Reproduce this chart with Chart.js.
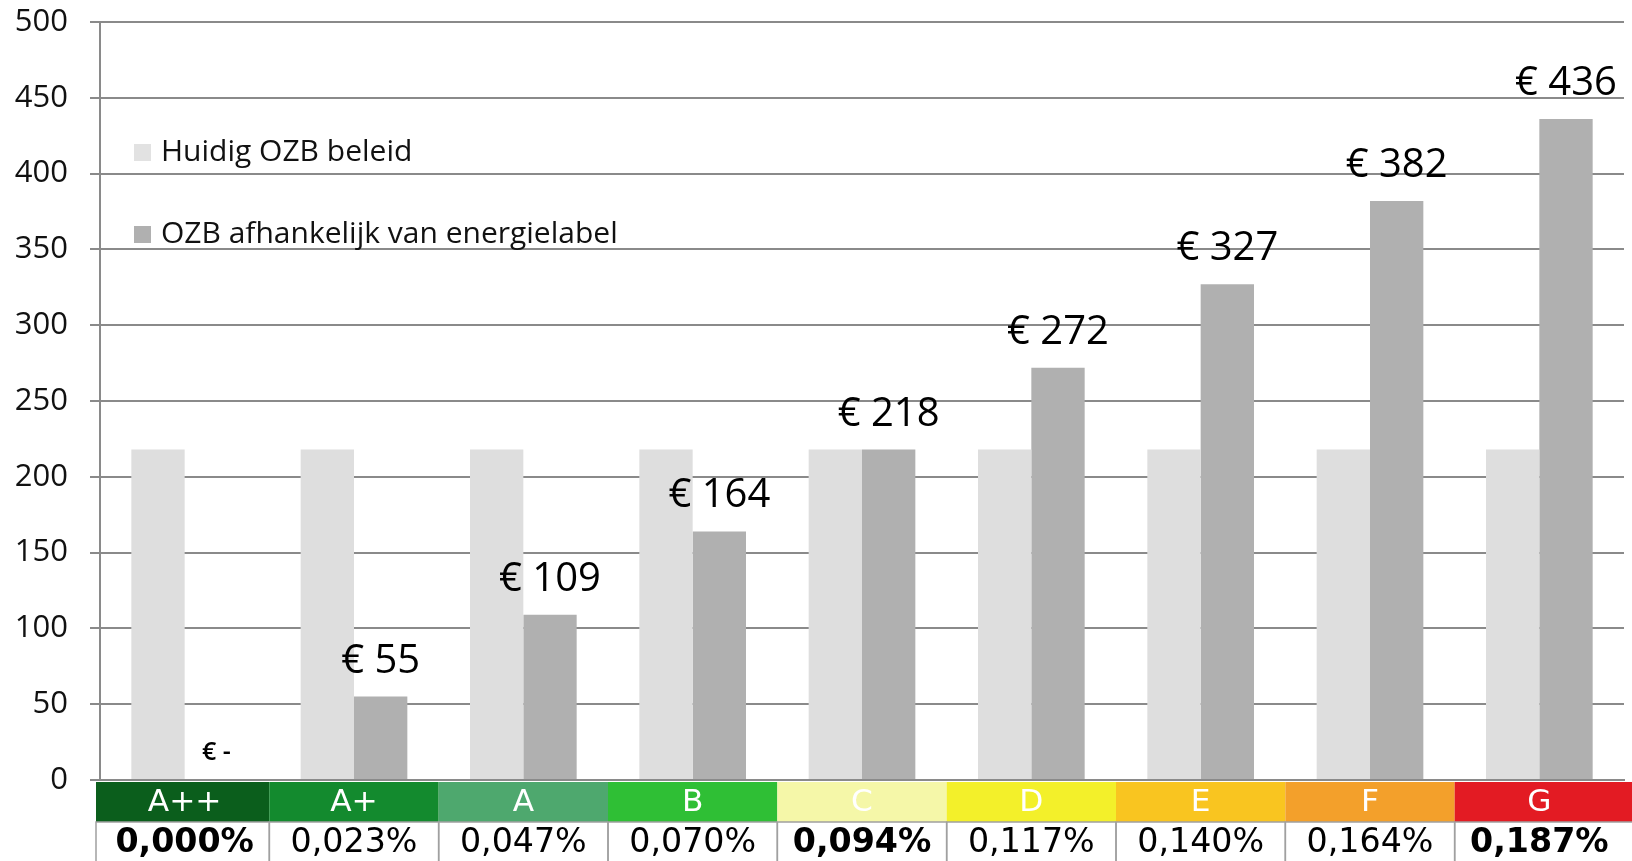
<!DOCTYPE html>
<html>
<head>
<meta charset="utf-8">
<script src="https://cdn.jsdelivr.net/npm/chart.js@4"></script>
<style>
  html, body { margin: 0; padding: 0; background: #fff; }
  #wrap { width: 1632px; height: 861px; position: relative; }
</style>
</head>
<body>
<div id="wrap"><canvas id="ozb-chart"></canvas></div>
<script>
var labels = ["A++", "A+", "A", "B", "C", "D", "E", "F", "G"];
var tarieven = ["0,000%", "0,023%", "0,047%", "0,070%", "0,094%", "0,117%", "0,140%", "0,164%", "0,187%"];
var vetTarief = [true, false, false, false, true, false, false, false, true];
var labelKleuren = ["#0b5e1c", "#138a2e", "#4ea86e", "#2fbf35", "#f5f7a8", "#f3f02a", "#f9c520", "#f3a02b", "#e31b23"];
var huidig = [218, 218, 218, 218, 218, 218, 218, 218, 218];
var afhankelijk = [0, 55, 109, 164, 218, 272, 327, 382, 436];
var yTicks = [0, 50, 100, 150, 200, 250, 300, 350, 400, 450, 500];

var FONT = "'Open Sans', 'Noto Sans', sans-serif";
var TABLE_FONT = "'DejaVu Sans Condensed', 'DejaVu Sans', sans-serif";

// euro labels above the dark bars
var waardeLabels = {
  id: 'waardeLabels',
  afterDatasetsDraw: function(chart){
    var ctx = chart.ctx;
    var meta = chart.getDatasetMeta(1);
    ctx.save();
    ctx.fillStyle = '#000';
    ctx.textAlign = 'center';
    meta.data.forEach(function(bar, i){
      var v = afhankelijk[i];
      if (v === 0) {
        ctx.font = '600 25px ' + FONT;
        ctx.textBaseline = 'middle';
        ctx.fillText('€ -', bar.x + 5, bar.y - 27);
      } else {
        ctx.font = '40px ' + FONT;
        ctx.textBaseline = 'alphabetic';
        ctx.fillText('€ ' + v, bar.x, bar.y - 24);
      }
    });
    ctx.restore();
  }
};

// legend inside the plot, top left
var binnenLegenda = {
  id: 'binnenLegenda',
  afterDraw: function(chart){
    var ctx = chart.ctx;
    var items = [
      { y: 152, kleur: '#e2e2e2', tekst: chart.data.datasets[0].label },
      { y: 234, kleur: '#b0b0b0', tekst: chart.data.datasets[1].label }
    ];
    ctx.save();
    ctx.font = '30px ' + FONT;
    ctx.textBaseline = 'middle';
    ctx.textAlign = 'left';
    items.forEach(function(it){
      ctx.fillStyle = it.kleur;
      ctx.fillRect(134, it.y - 8, 17, 17);
      ctx.fillStyle = '#111';
      ctx.fillText(it.tekst, 161, it.y);
    });
    ctx.restore();
  }
};

function rekTekst(ctx, tekst, x, y){
  ctx.save();
  ctx.translate(x, y);
  ctx.scale(1.12, 1);
  ctx.fillText(tekst, 0, 0);
  ctx.restore();
}

// energy label table under the x axis
var labelTabel = {
  id: 'labelTabel',
  afterDraw: function(chart){
    var ctx = chart.ctx;
    var x = chart.scales.x;
    var area = chart.chartArea;
    var breedte = (area.right - area.left) / labels.length;
    var top1 = area.bottom + 2, h1 = 40;
    var top2 = top1 + h1, h2 = 861 - top2;
    ctx.save();
    ctx.textAlign = 'center';
    ctx.textBaseline = 'middle';
    labels.forEach(function(lab, i){
      var midden = x.getPixelForValue(i);
      var links = midden - breedte / 2 - (i === 0 ? 4 : 0);
      var w = breedte + (i === 0 ? 4 : 0) + (i === labels.length - 1 ? 10 : 0);
      ctx.fillStyle = labelKleuren[i];
      ctx.fillRect(links, top1, w, h1);
      ctx.fillStyle = '#fff';
      ctx.font = '31px ' + TABLE_FONT;
      rekTekst(ctx, lab, midden, top1 + h1 / 2 + 1);

      ctx.strokeStyle = '#a0a0a0';
      ctx.lineWidth = 1.5;
      ctx.strokeRect(links, top2, w, h2 + 2);
      ctx.fillStyle = '#000';
      ctx.font = (vetTarief[i] ? 'bold ' : '') + '33px ' + TABLE_FONT;
      rekTekst(ctx, tarieven[i], midden, top2 + h2 / 2 + 2);
    });
    ctx.restore();
  }
};

new Chart(document.getElementById('ozb-chart'), {
  type: 'bar',
  data: {
    labels: labels,
    datasets: [
      {
        label: 'Huidig OZB beleid',
        data: huidig,
        backgroundColor: '#dedede',
        categoryPercentage: 0.63,
        barPercentage: 1.0
      },
      {
        label: 'OZB afhankelijk van energielabel',
        data: afhankelijk,
        backgroundColor: '#b0b0b0',
        categoryPercentage: 0.63,
        barPercentage: 1.0
      }
    ]
  },
  options: {
    responsive: true,
    maintainAspectRatio: false,
    animation: false,
    layout: { padding: { left: 0, right: 8, top: 22, bottom: 81 } },
    plugins: {
      legend: { display: false },
      tooltip: { enabled: false }
    },
    scales: {
      x: {
        ticks: { display: false },
        grid: { display: false, drawTicks: false },
        border: { display: true, color: '#8a8a8a', width: 2 }
      },
      y: {
        min: 0,
        max: 500,
        afterBuildTicks: function(axis){
          axis.ticks = yTicks.map(function(v){ return { value: v }; });
        },
        afterFit: function(axis){
          axis.width = 100;
          axis.paddingTop = 0;
          axis.paddingBottom = 0;
        },
        ticks: {
          color: '#111',
          font: { family: FONT, size: 31 },
          padding: 22
        },
        grid: { color: '#8a8a8a', lineWidth: 2, tickLength: 10 },
        border: { display: true, color: '#8a8a8a', width: 2 }
      }
    }
  },
  plugins: [waardeLabels, binnenLegenda, labelTabel]
});
</script>
</body>
</html>
